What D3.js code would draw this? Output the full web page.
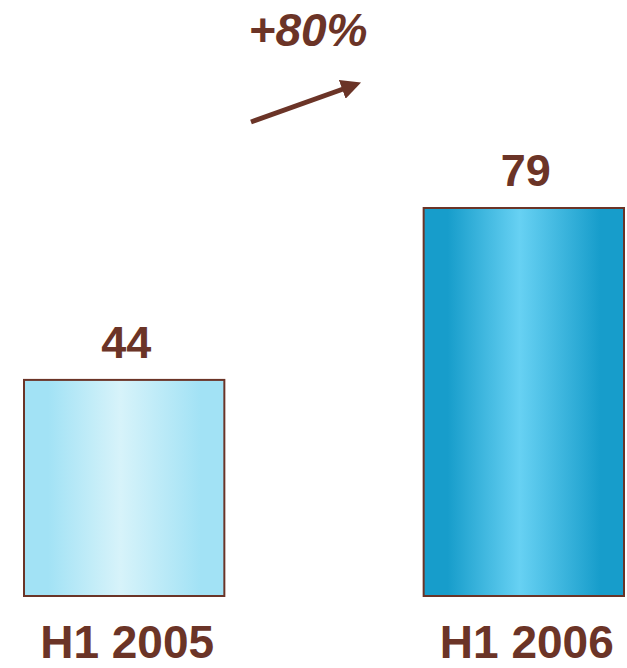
<!DOCTYPE html>
<html>
<head>
<meta charset="utf-8">
<script src="https://cdn.jsdelivr.net/npm/d3@7"></script>
<style>
  body { margin: 0; background: #fff; }
  text { font-family: "Liberation Sans", Arial, sans-serif; font-weight: bold; fill: #6B3427; }
</style>
</head>
<body>
<div id="chart"></div>
<script>
var categories = ["H1 2005", "H1 2006"];
var values = [44, 79];
var growthLabel = "+80%";

var width = 627, height = 668;
var brown = "#6B3427";

var svg = d3.select("#chart").append("svg")
    .attr("width", width)
    .attr("height", height);

var defs = svg.append("defs");

// gradients per bar: edge colour, centre colour
var grads = [
    {id: "g0", edge: "#A2E2F5", mid: "#D7F3FA"},
    {id: "g1", edge: "#179DCB", mid: "#67D1F3"}
];
grads.forEach(function(g) {
    var lg = defs.append("linearGradient").attr("id", g.id)
        .attr("x1", "0%").attr("x2", "100%").attr("y1", "0%").attr("y2", "0%");
    lg.append("stop").attr("offset", "0%").attr("stop-color", g.edge);
    lg.append("stop").attr("offset", "12%").attr("stop-color", g.edge);
    lg.append("stop").attr("offset", "48%").attr("stop-color", g.mid);
    lg.append("stop").attr("offset", "88%").attr("stop-color", g.edge);
    lg.append("stop").attr("offset", "100%").attr("stop-color", g.edge);
});

defs.append("marker")
    .attr("id", "arrow")
    .attr("viewBox", "0 0 10 10")
    .attr("refX", 2).attr("refY", 5)
    .attr("markerWidth", 4).attr("markerHeight", 4)
    .attr("markerUnits", "strokeWidth")
    .attr("orient", "auto")
  .append("path")
    .attr("d", "M0,0 L10,5 L0,10 Z")
    .attr("fill", brown);

var x = d3.scaleBand()
    .domain(categories)
    .range([24, 624])
    .paddingInner(0.4987)
    .paddingOuter(0);

var y = d3.scaleLinear()
    .domain([0, 79])
    .range([596, 208]);

svg.selectAll("rect.bar")
    .data(values)
    .enter()
    .append("rect")
    .attr("class", "bar")
    .attr("x", (d, i) => x(categories[i]))
    .attr("y", d => y(d))
    .attr("width", x.bandwidth())
    .attr("height", d => y(0) - y(d))
    .attr("fill", (d, i) => "url(#" + grads[i].id + ")")
    .attr("stroke", brown)
    .attr("stroke-width", 2);

svg.selectAll("text.val")
    .data(values)
    .enter()
    .append("text")
    .attr("class", "val")
    .attr("x", (d, i) => x(categories[i]) + x.bandwidth() / 2 + 2)
    .attr("y", d => y(d) - 22)
    .attr("text-anchor", "middle")
    .attr("font-size", 45)
    .text(d => d);

svg.selectAll("text.cat")
    .data(categories)
    .enter()
    .append("text")
    .attr("class", "cat")
    .attr("x", d => x(d) + x.bandwidth() / 2 + 3)
    .attr("y", 658)
    .attr("text-anchor", "middle")
    .attr("font-size", 46)
    .text(d => d);

svg.append("text")
    .attr("x", 308)
    .attr("y", 46)
    .attr("text-anchor", "middle")
    .attr("font-size", 46)
    .attr("font-style", "italic")
    .text(growthLabel);

svg.append("line")
    .attr("x1", 251).attr("y1", 122)
    .attr("x2", 346).attr("y2", 88)
    .attr("stroke", brown)
    .attr("stroke-width", 5)
    .attr("marker-end", "url(#arrow)");
</script>
</body>
</html>
